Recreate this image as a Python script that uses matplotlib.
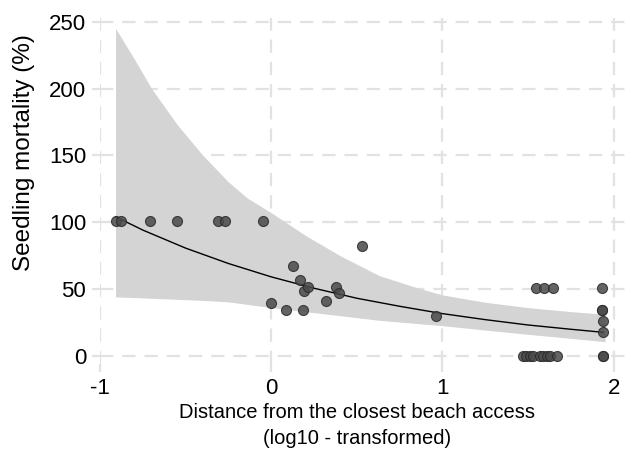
import matplotlib
matplotlib.use('Agg')
import matplotlib.pyplot as plt

plt.rcParams['font.family'] = ['Liberation Sans', 'DejaVu Sans']
plt.rcParams['axes.unicode_minus'] = False

# observed seedling mortality vs log10 distance
dist = [-0.91, -0.88, -0.71, -0.55, -0.31, -0.27, -0.05,
        0.0, 0.088, 0.127, 0.17, 0.19, 0.187, 0.214, 0.317, 0.376, 0.395, 0.53, 0.96,
        1.47, 1.49, 1.51, 1.53, 1.57, 1.59, 1.61, 1.63, 1.67,
        1.545, 1.596, 1.646,
        1.93, 1.93, 1.93, 1.94, 1.94, 1.94, 1.94]
mort = [101, 101, 101, 101, 101, 101, 101,
        39.4, 34.2, 67.4, 56.7, 48.2, 34.2, 51.2, 41, 51.2, 46.7, 82, 29.7,
        0, 0, 0, 0, 0, 0, 0, 0, 0,
        51, 51, 51,
        51, 34.2, 34.2, 26, 17.7, 0, 0]

# fitted curve
fit_x = [-0.91, -0.75, -0.5, -0.25, 0.0, 0.25, 0.5, 0.75, 1.0, 1.25, 1.5, 1.75, 1.94]
fit_y = [104, 94, 80.5, 69, 59, 50.5, 43, 37, 31.5, 27, 23, 19.8, 17.5]

# confidence band
band_x = [-0.91, -0.8, -0.7, -0.55, -0.4, -0.25, -0.14, 0.0, 0.2, 0.4, 0.63, 0.86,
          1.0, 1.25, 1.5, 1.75, 1.95]
ci_hi = [245, 222, 200, 173, 150, 130, 118, 107, 90, 75, 60, 50.5,
         45.5, 40, 36, 33, 31]
ci_lo = [44, 43.5, 43, 42.2, 41.4, 40.3, 38.4, 36, 33, 30, 26.5, 24,
         22.5, 19.2, 16, 13, 10.5]

fig = plt.figure(figsize=(6.26, 4.61), dpi=100)
ax = fig.add_axes([0.16, 0.211, 0.838, 0.7506])

ax.fill_between(band_x, ci_lo, ci_hi, color='#d4d4d4', linewidth=0, zorder=1)
ax.plot(fit_x, fit_y, color='black', linewidth=1.0, zorder=3)
ax.scatter(dist, mort, s=52, facecolor='#4a4a4a', edgecolor='#2a2a2a',
           linewidth=0.8, alpha=0.85, zorder=4)

ax.set_xlim(-1, 2.065)
ax.set_ylim(-6, 253)
ax.set_xticks([-1, 0, 1, 2])
ax.set_yticks([0, 50, 100, 150, 200, 250])
ax.grid(True, color='#e2e2e2', linestyle=(0, (6, 4)), linewidth=1.6, zorder=0)
ax.set_axisbelow(True)
for s in ax.spines.values():
    s.set_visible(False)
ax.tick_params(axis='both', color='#e2e2e2', width=1.6, length=6, labelsize=16, pad=4)

ax.set_ylabel('Seedling mortality (%)', fontsize=17.5)
ax.yaxis.set_label_coords(-0.124, 0.61)
ax.set_xlabel('Distance from the closest beach access\n(log10 - transformed)',
              fontsize=14.5, linespacing=1.5, labelpad=3)
ax.xaxis.label.set_x(0.49)

fig.savefig('out.png', dpi=100)
